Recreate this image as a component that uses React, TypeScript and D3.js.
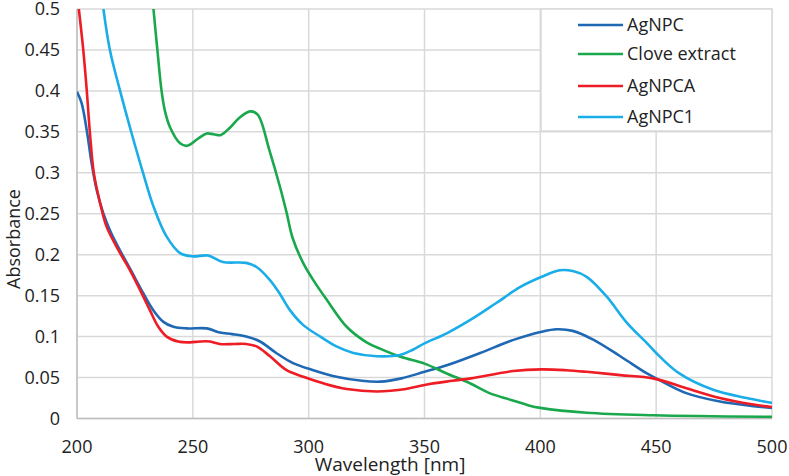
import { useRef, useEffect } from 'react';
import * as d3 from 'd3';

// [wavelength nm, absorbance]
const agnpc: [number, number][] = [
    [200, 0.399], [202, 0.385], [204.2, 0.352], [206.3, 0.312], [208.5, 0.279], [211.4, 0.250],
    [214.5, 0.228], [218.6, 0.205], [222.9, 0.183], [228.6, 0.153], [233, 0.132], [237.3, 0.118],
    [241.6, 0.112], [247.3, 0.110], [256, 0.110], [261.7, 0.105], [267, 0.103], [273, 0.100],
    [279, 0.094], [286, 0.080], [293, 0.068], [302, 0.059], [312, 0.051], [323, 0.046],
    [331, 0.045], [340, 0.049], [350, 0.057], [359.6, 0.065], [374, 0.080], [388.4, 0.096],
    [400.6, 0.106], [407, 0.109], [414, 0.107], [423, 0.096], [434.5, 0.076], [446, 0.055],
    [450, 0.049], [463, 0.031], [477, 0.021], [492, 0.015], [500, 0.013],
];

const clove: [number, number][] = [
    [233, 0.500], [234.7, 0.450], [236.5, 0.400], [238, 0.375], [240.1, 0.356], [244.5, 0.336],
    [247.6, 0.333], [252.4, 0.342], [256, 0.348], [259, 0.347], [262, 0.346], [266, 0.355],
    [270, 0.367], [274.7, 0.375], [278, 0.371], [283, 0.328], [287.6, 0.283], [290.5, 0.251],
    [293, 0.221], [297.6, 0.190], [302, 0.169], [307.8, 0.145], [316.4, 0.112], [325, 0.093],
    [331, 0.085], [340, 0.075], [350, 0.067], [359.6, 0.055], [369.6, 0.043], [378, 0.031],
    [387, 0.023], [395, 0.016], [400, 0.013], [420, 0.007], [449, 0.004], [500, 0.002],
];

const agnpca: [number, number][] = [
    [200.8, 0.500], [202.7, 0.450], [204.2, 0.401], [205.6, 0.348], [207.3, 0.299], [210, 0.263],
    [212.8, 0.234], [218.6, 0.202], [222.9, 0.181], [227.2, 0.157], [231.5, 0.132], [235.1, 0.112],
    [238.7, 0.100], [243.7, 0.094], [248.8, 0.093], [253, 0.094], [257.4, 0.094], [261.7, 0.091],
    [268, 0.091], [273, 0.091], [277.5, 0.088], [283.3, 0.076], [290.5, 0.059], [297.7, 0.051],
    [306.3, 0.043], [316.4, 0.036], [329.4, 0.033], [342, 0.036], [350, 0.041], [362, 0.046],
    [370, 0.049], [388.4, 0.058], [400.6, 0.060], [411, 0.059], [420, 0.057], [434.5, 0.053],
    [448.7, 0.049], [463, 0.037], [477.5, 0.025], [492, 0.017], [500, 0.014],
];

const agnpc1: [number, number][] = [
    [211.4, 0.500], [214.2, 0.450], [218.6, 0.400], [223.6, 0.348], [228.6, 0.299], [233, 0.259],
    [238.7, 0.222], [244.5, 0.202], [250, 0.198], [256.5, 0.199], [263, 0.191], [273, 0.190],
    [277.5, 0.185], [283.3, 0.169], [287.6, 0.152], [292, 0.132], [297.7, 0.114], [305, 0.100],
    [312, 0.088], [319.3, 0.080], [329.4, 0.076], [339.4, 0.0775], [345, 0.084], [350.2, 0.092],
    [359.6, 0.104], [369.6, 0.120], [381, 0.141], [391, 0.160], [400.6, 0.173], [408.5, 0.181],
    [414, 0.180], [420, 0.173], [428.6, 0.149], [437, 0.118], [446, 0.092], [450, 0.080],
    [460, 0.055], [474.6, 0.035], [489, 0.025], [500, 0.019],
];

const seriesNames = ['AgNPC', 'Clove extract', 'AgNPCA', 'AgNPC1'];
const seriesColors = ['#1f68b4', '#1aa84c', '#ee1c24', '#1aade8'];
const seriesData = [agnpc, clove, agnpca, agnpc1];

const xTicks = [200, 250, 300, 350, 400, 450, 500];
const yTicks = [0, 0.05, 0.1, 0.15, 0.2, 0.25, 0.3, 0.35, 0.4, 0.45, 0.5];

export default function App() {
    const svgRef = useRef<SVGSVGElement>(null);

    useEffect(() => {
        if (!svgRef.current) return;

        const width = 789;
        const height = 476;
        const margin = { top: 9, right: 17, bottom: 57.5, left: 77 };
        const innerWidth = width - margin.left - margin.right;
        const innerHeight = height - margin.top - margin.bottom;
        const font = '"Open Sans", sans-serif';
        const gridColor = '#d9d9d9';
        const textColor = '#222';

        const svg = d3.select(svgRef.current);
        svg.selectAll('*').remove();
        svg.attr('width', width).attr('height', height);

        const g = svg.append('g').attr('transform', `translate(${margin.left},${margin.top})`);

        const x = d3.scaleLinear().domain([200, 500]).range([0, innerWidth]);
        const y = d3.scaleLinear().domain([0, 0.5]).range([innerHeight, 0]);

        // Grid
        g.append('g')
            .selectAll('line')
            .data(yTicks)
            .enter()
            .append('line')
            .attr('x1', 0)
            .attr('x2', innerWidth)
            .attr('y1', d => y(d))
            .attr('y2', d => y(d))
            .attr('stroke', gridColor)
            .attr('stroke-width', 1.5);

        g.append('g')
            .selectAll('line')
            .data(xTicks)
            .enter()
            .append('line')
            .attr('x1', d => x(d))
            .attr('x2', d => x(d))
            .attr('y1', 0)
            .attr('y2', innerHeight)
            .attr('stroke', gridColor)
            .attr('stroke-width', 1.5);

        // Axes lines
        g.append('line')
            .attr('x1', 0).attr('x2', 0)
            .attr('y1', 0).attr('y2', innerHeight)
            .attr('stroke', '#bfbfbf').attr('stroke-width', 1.5);
        g.append('line')
            .attr('x1', 0).attr('x2', innerWidth)
            .attr('y1', innerHeight).attr('y2', innerHeight)
            .attr('stroke', '#bfbfbf').attr('stroke-width', 1.5);

        // Tick labels
        g.append('g')
            .selectAll('text')
            .data(yTicks)
            .enter()
            .append('text')
            .attr('x', -17)
            .attr('y', d => y(d) + 6.4)
            .attr('text-anchor', 'end')
            .attr('font-family', font)
            .attr('font-size', '18px')
            .attr('fill', textColor)
            .text(d => d3.format('~g')(d));

        g.append('g')
            .selectAll('text')
            .data(xTicks)
            .enter()
            .append('text')
            .attr('x', d => x(d))
            .attr('y', innerHeight + 34.5)
            .attr('text-anchor', 'middle')
            .attr('font-family', font)
            .attr('font-size', '18px')
            .attr('fill', textColor)
            .text(d => d);

        // Axis titles
        svg.append('text')
            .attr('x', 390)
            .attr('y', 471)
            .attr('text-anchor', 'middle')
            .attr('font-family', font)
            .attr('font-size', '19px')
            .attr('fill', textColor)
            .text('Wavelength [nm]');

        svg.append('text')
            .attr('transform', 'translate(19.5,239) rotate(-90)')
            .attr('text-anchor', 'middle')
            .attr('font-family', font)
            .attr('font-size', '18px')
            .attr('fill', textColor)
            .text('Absorbance');

        // Curves
        svg.append('defs')
            .append('clipPath')
            .attr('id', 'plot-clip')
            .append('rect')
            .attr('width', innerWidth)
            .attr('height', innerHeight);

        const line = d3.line<[number, number]>()
            .x(d => x(d[0]))
            .y(d => y(d[1]))
            .curve(d3.curveCatmullRom.alpha(0.5));

        const curves = g.append('g').attr('clip-path', 'url(#plot-clip)');
        seriesData.forEach((s, i) => {
            curves.append('path')
                .datum(s)
                .attr('d', line)
                .attr('fill', 'none')
                .attr('stroke', seriesColors[i])
                .attr('stroke-width', 2.6)
                .attr('stroke-linejoin', 'round');
        });

        // Legend
        const legend = svg.append('g').attr('transform', 'translate(541,9)');
        legend.append('rect')
            .attr('width', 231)
            .attr('height', 122)
            .attr('fill', 'white')
            .attr('stroke', gridColor)
            .attr('stroke-width', 1.5);

        const rowY = [16, 45, 77, 108];
        seriesNames.forEach((name, i) => {
            legend.append('line')
                .attr('x1', 37)
                .attr('x2', 82)
                .attr('y1', rowY[i])
                .attr('y2', rowY[i])
                .attr('stroke', seriesColors[i])
                .attr('stroke-width', 2.6);
            legend.append('text')
                .attr('x', 86)
                .attr('y', rowY[i] + 6.4)
                .attr('font-family', font)
                .attr('font-size', '18px')
                .attr('fill', textColor)
                .text(name);
        });
    }, []);

    return (
        <div style={{ position: 'absolute', left: 0, top: 0 }}>
            <svg ref={svgRef} style={{ display: 'block' }} />
        </div>
    );
}
